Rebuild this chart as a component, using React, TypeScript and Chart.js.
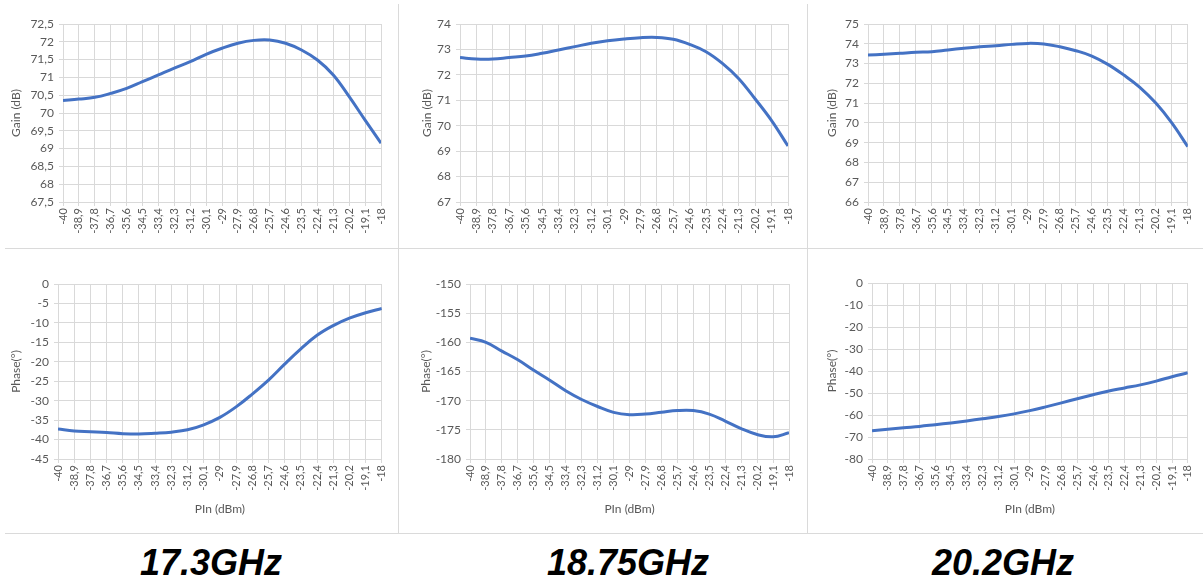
import React, { useEffect, useRef } from 'react';
import { Chart, registerables } from 'chart.js';

Chart.register(...registerables);

// Input power (dBm) — category ticks shown on every panel
const PIN_TICKS = [-40, -38.9, -37.8, -36.7, -35.6, -34.5, -33.4, -32.3, -31.2, -30.1, -29, -27.9, -26.8, -25.7, -24.6, -23.5, -22.4, -21.3, -20.2, -19.1, -18];

// 17.3 GHz
const GAIN_17_3 = [70.35, 70.39, 70.44, 70.55, 70.69, 70.88, 71.07, 71.26, 71.44, 71.65, 71.82, 71.96, 72.04, 72.05, 71.96, 71.77, 71.49, 71.07, 70.46, 69.8, 69.15];
const PHASE_17_3 = [-37.3, -37.8, -38.0, -38.2, -38.5, -38.6, -38.4, -38.1, -37.5, -36.2, -34.3, -31.6, -28.3, -24.7, -20.6, -16.7, -13.2, -10.7, -8.8, -7.4, -6.3];

// 18.75 GHz
const GAIN_18_75 = [72.68, 72.62, 72.62, 72.68, 72.74, 72.85, 72.98, 73.11, 73.24, 73.34, 73.41, 73.46, 73.47, 73.4, 73.2, 72.91, 72.45, 71.85, 71.05, 70.2, 69.2];
const PHASE_18_75 = [-159.3, -160, -161.5, -163, -164.8, -166.5, -168.3, -169.8, -171, -172, -172.4, -172.3, -172, -171.7, -171.7, -172.3, -173.5, -174.8, -175.8, -176.2, -175.5];

// 20.2 GHz
const GAIN_20_2 = [73.43, 73.47, 73.52, 73.57, 73.6, 73.69, 73.77, 73.85, 73.9, 73.97, 74.02, 73.99, 73.85, 73.65, 73.38, 72.96, 72.42, 71.8, 71.0, 70.0, 68.8];
const PHASE_20_2 = [-67.2, -66.5, -65.8, -65.2, -64.4, -63.6, -62.7, -61.7, -60.7, -59.5, -58.0, -56.3, -54.5, -52.6, -50.8, -49.1, -47.7, -46.3, -44.6, -42.6, -40.8];

const FREQ_LABELS = ['17.3GHz', '18.75GHz', '20.2GHz'];

const GRID = '#D9D9D9';
const TEXT = '#595959';
const LINE = '#4472C4';
const FONT = 'Lato, "Open Sans", sans-serif';

const fmt = (v: number) => String(Math.round(v * 10) / 10).replace('.', ',');

type Spec = {
  left: number; top: number; width: number; height: number;
  plotLeft: number; plotTop: number; plotRight: number; plotBottom: number;
  yMin: number; yMax: number; yStep: number;
  yTitle: string; yTitlePad: number;
  xTitle?: string; xTitleBottom?: number;
  values: number[];
};

function Panel({ s }: { s: Spec }) {
  const ref = useRef<HTMLCanvasElement>(null);
  useEffect(() => {
    if (!ref.current) return;
    const yWidth = s.plotLeft - s.left;
    const xHeight = s.top + s.height - s.plotBottom;
    const chart = new Chart(ref.current, {
      type: 'line',
      data: {
        datasets: [
          {
            data: PIN_TICKS.map((x, i) => ({ x, y: s.values[i] })),
            borderColor: LINE,
            borderWidth: 3,
            pointRadius: 0,
            tension: 0.4,
            fill: false,
          },
        ],
      },
      options: {
        responsive: false,
        animation: false,
        events: [],
        layout: {
          padding: {
            left: 0,
            top: s.plotTop - s.top,
            right: s.left + s.width - s.plotRight,
            bottom: 0,
          },
        },
        plugins: { legend: { display: false }, tooltip: { enabled: false } },
        scales: {
          x: {
            type: 'linear',
            min: PIN_TICKS[0],
            max: PIN_TICKS[PIN_TICKS.length - 1],
            afterBuildTicks: (scale: any) => {
              scale.ticks = PIN_TICKS.map((v) => ({ value: v }));
            },
            afterFit: (scale: any) => {
              scale.height = xHeight;
            },
            grid: { color: GRID, lineWidth: 1, tickLength: 4 },
            border: { color: GRID },
            ticks: {
              autoSkip: false,
              maxRotation: 90,
              minRotation: 90,
              padding: 2,
              color: TEXT,
              font: { family: FONT, size: 11 },
              callback: (v: any) => fmt(Number(v)),
            },
            title: s.xTitle
              ? {
                  display: true,
                  text: s.xTitle,
                  color: TEXT,
                  font: { family: FONT, size: 12 },
                  padding: { top: 0, bottom: s.xTitleBottom ?? 0 },
                }
              : { display: false },
          },
          y: {
            min: s.yMin,
            max: s.yMax,
            afterFit: (scale: any) => {
              scale.width = yWidth;
            },
            grid: { color: GRID, lineWidth: 1, tickLength: 4 },
            border: { color: GRID },
            ticks: {
              stepSize: s.yStep,
              padding: 5,
              color: TEXT,
              font: { family: FONT, size: 12 },
              callback: (v: any) => fmt(Number(v)),
            },
            title: {
              display: true,
              text: s.yTitle,
              color: TEXT,
              font: { family: FONT, size: 12 },
              padding: { top: s.yTitlePad, bottom: 0 },
            },
          },
        },
      },
    } as any);
    return () => chart.destroy();
  }, []);
  return (
    <canvas
      ref={ref}
      width={s.width}
      height={s.height}
      style={{ position: 'absolute', left: s.left, top: s.top, width: s.width, height: s.height }}
    />
  );
}

const ROW1 = { top: 0, height: 247 };
const ROW2 = { top: 249, height: 283 };
const COLS = [
  { left: 0, width: 397 },
  { left: 399, width: 407 },
  { left: 808, width: 395 },
];

const SPECS: Spec[] = [
  { ...COLS[0], ...ROW1, plotLeft: 63, plotTop: 24, plotRight: 381, plotBottom: 202, yMin: 67.5, yMax: 72.5, yStep: 0.5, yTitle: 'Gain (dB)', yTitlePad: 9, values: GAIN_17_3 },
  { ...COLS[1], ...ROW1, plotLeft: 460, plotTop: 24, plotRight: 788, plotBottom: 202, yMin: 67, yMax: 74, yStep: 1, yTitle: 'Gain (dB)', yTitlePad: 21, values: GAIN_18_75 },
  { ...COLS[2], ...ROW1, plotLeft: 868, plotTop: 24, plotRight: 1198, plotBottom: 202, yMin: 66, yMax: 75, yStep: 1, yTitle: 'Gain (dB)', yTitlePad: 17, values: GAIN_20_2 },
  { ...COLS[0], ...ROW2, plotLeft: 58, plotTop: 284, plotRight: 383, plotBottom: 459, yMin: -45, yMax: 0, yStep: 5, yTitle: 'Phase(°)', yTitlePad: 9, xTitle: 'PIn (dBm)', xTitleBottom: 16, values: PHASE_17_3 },
  { ...COLS[1], ...ROW2, plotLeft: 470, plotTop: 284, plotRight: 789, plotBottom: 459, yMin: -180, yMax: -150, yStep: 5, yTitle: 'Phase(°)', yTitlePad: 20, xTitle: 'PIn (dBm)', xTitleBottom: 16, values: PHASE_18_75 },
  { ...COLS[2], ...ROW2, plotLeft: 872, plotTop: 283, plotRight: 1197, plotBottom: 459, yMin: -80, yMax: 0, yStep: 10, yTitle: 'Phase(°)', yTitlePad: 17, xTitle: 'PIn (dBm)', xTitleBottom: 16, values: PHASE_20_2 },
];

const LABEL_CENTERS = [211, 628, 1003];

export default function App() {
  return (
    <div style={{ position: 'absolute', left: 0, top: 0, width: 1203, height: 580, background: '#fff', overflow: 'hidden' }}>
      {/* panel dividers */}
      <div style={{ position: 'absolute', left: 398, top: 4, width: 1, height: 529, background: '#DADADA' }} />
      <div style={{ position: 'absolute', left: 807, top: 4, width: 1, height: 529, background: '#DADADA' }} />
      <div style={{ position: 'absolute', left: 5, top: 248, width: 1198, height: 1, background: '#DADADA' }} />
      <div style={{ position: 'absolute', left: 5, top: 533, width: 1198, height: 1, background: '#DADADA' }} />
      {SPECS.map((s, i) => (
        <Panel key={i} s={s} />
      ))}
      {FREQ_LABELS.map((t, i) => (
        <div
          key={t}
          style={{
            position: 'absolute',
            left: LABEL_CENTERS[i] - 150,
            width: 300,
            top: 543,
            textAlign: 'center',
            font: 'italic bold 36px "Liberation Sans", Arial, sans-serif',
            color: '#000',
            lineHeight: '40px',
          }}
        >
          {t}
        </div>
      ))}
    </div>
  );
}
